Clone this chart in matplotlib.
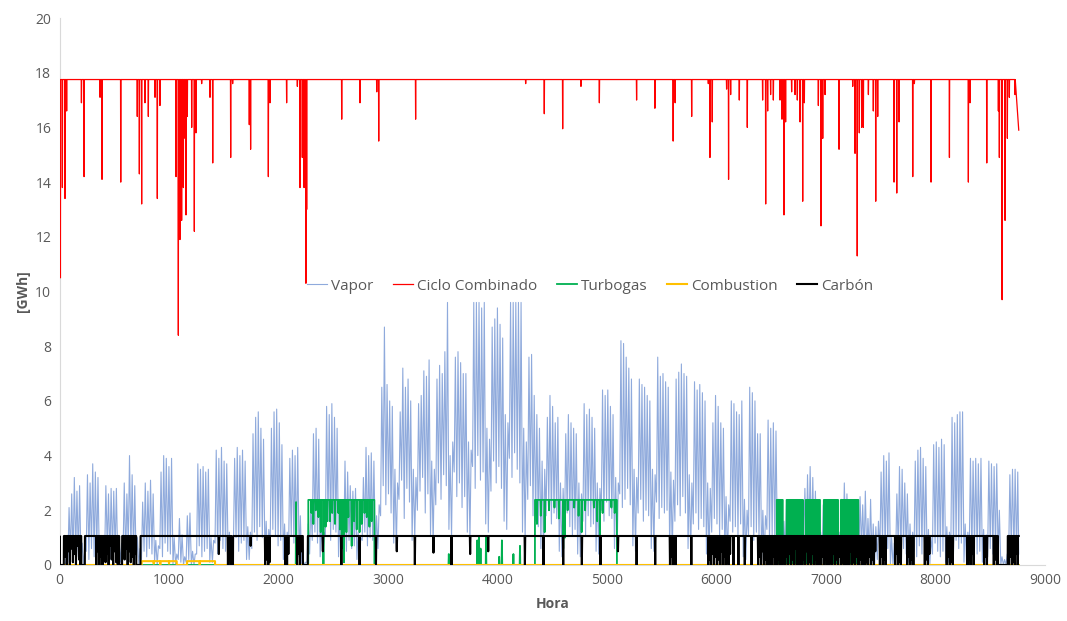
import numpy as np
import matplotlib
matplotlib.use('Agg')
import matplotlib.pyplot as plt

plt.rcParams['font.family'] = ['Open Sans', 'DejaVu Sans']

# ------------------------------------------------------------
# datos (horas del año, GWh)
# ------------------------------------------------------------
# Vapor: pico diario (365 dias, 7 por fila = 1 semana desde la hora 0)
vap_pico = [
    0, 0, 0.3, 2.1, 2.6, 3.2, 2.7,
    2.9, 0.8, 0.6, 3.3, 3.0, 3.7, 3.4,
    3.2, 1.0, 0.7, 2.9, 2.6, 2.8, 2.7,
    2.8, 0.9, 0.8, 3.0, 2.6, 4.0, 3.3,
    2.9, 1.0, 0.6, 2.3, 3.0, 2.7, 3.1,
    2.6, 0.9, 0.7, 3.4, 4.0, 3.9, 3.6,
    3.9, 1.0, 0.4, 1.7, 1.1, 0.3, 1.8,
    1.9, 0.5, 0.4, 3.7, 3.5, 3.6, 3.4,
    3.5, 1.0, 0.9, 4.2, 3.9, 4.3, 3.8,
    3.7, 1.2, 1.0, 3.9, 4.3, 4.0, 4.2,
    3.8, 1.4, 1.2, 4.8, 5.4, 5.6, 5.0,
    4.6, 1.6, 1.3, 5.0, 5.6, 5.7, 5.2,
    4.4, 1.5, 1.2, 3.9, 4.2, 4.0, 4.3,
    1.8, 0.2, 0.1, 1.5, 2.3, 4.8, 5.0,
    4.6, 1.5, 1.2, 5.8, 5.5, 5.9, 5.4,
    5.0, 1.6, 1.3, 3.8, 3.4, 2.9, 2.7,
    2.8, 1.2, 1.0, 3.2, 4.3, 4.0, 4.1,
    3.8, 1.8, 2.2, 6.5, 8.7, 6.6, 6.0,
    5.8, 3.5, 3.0, 5.6, 7.2, 6.5, 6.8,
    6.0, 3.5, 3.2, 5.9, 6.2, 7.1, 6.9,
    7.5, 3.8, 3.5, 6.8, 7.3, 7.0, 7.8,
    9.6, 4.0, 4.5, 7.6, 7.8, 7.4, 7.0,
    7.0, 4.5, 4.2, 9.6, 9.6, 9.6, 9.4,
    9.6, 5.0, 4.6, 8.7, 9.0, 9.4, 8.8,
    8.3, 5.5, 5.2, 9.6, 9.6, 9.6, 9.6,
    9.6, 5.0, 4.5, 7.6, 7.7, 6.2, 5.5,
    5.0, 3.8, 3.5, 5.4, 6.2, 5.8, 5.2,
    5.4, 3.0, 2.8, 4.8, 5.5, 5.2, 5.0,
    4.8, 3.0, 2.6, 5.9, 5.5, 5.7, 5.4,
    5.0, 3.0, 2.8, 6.4, 6.2, 6.4, 5.8,
    5.5, 3.2, 3.0, 8.2, 8.1, 7.6, 7.2,
    6.8, 3.5, 3.2, 6.8, 6.6, 6.5, 6.2,
    6.0, 3.5, 3.3, 7.6, 6.9, 7.0, 6.7,
    6.5, 3.4, 3.1, 6.8, 7.05, 7.35, 7.0,
    6.9, 3.3, 3.0, 6.7, 6.4, 6.6, 6.3,
    6.0, 3.0, 2.8, 5.2, 6.2, 5.8, 5.2,
    5.0, 2.5, 2.2, 6.0, 5.9, 5.6, 5.5,
    6.0, 2.4, 2.0, 6.5, 6.3, 6.0, 4.8,
    4.8, 2.0, 1.8, 5.3, 5.0, 5.2, 4.9,
    2.4, 1.8, 1.6, 2.2, 2.0, 2.3, 2.1,
    2.0, 1.5, 1.5, 2.8, 3.3, 3.6, 3.2,
    2.7, 1.5, 1.2, 2.2, 2.0, 2.3, 2.0,
    2.1, 1.4, 1.2, 2.4, 3.0, 2.6, 2.2,
    2.0, 1.2, 1.0, 2.5, 2.2, 2.7, 1.7,
    2.4, 1.5, 1.4, 1.6, 3.4, 4.0, 3.8,
    4.1, 1.0, 0.8, 2.6, 3.6, 3.5, 3.0,
    2.6, 1.5, 1.2, 3.8, 4.2, 4.3, 3.9,
    3.6, 1.3, 1.0, 4.4, 4.5, 4.3, 4.6,
    4.4, 1.4, 1.2, 5.4, 5.2, 5.5, 5.6,
    5.6, 1.5, 1.2, 3.9, 3.8, 3.9, 3.7,
    3.9, 1.3, 1.1, 3.8, 3.7, 3.6, 3.7,
    2.0, 0.3, 0.2, 0.4, 3.3, 3.5, 3.5,
    3.4,
]
# Vapor: valle nocturno diario (mismo orden)
vap_valle = [
    0, 0, 0, 0.1, 0.4, 0.2, 0.5,
    0.3, 0.1, 0.0, 0.5, 0.2, 0.6, 0.3,
    0.4, 0.1, 0.0, 0.3, 0.6, 0.2, 0.4,
    0.5, 0.0, 0.1, 0.4, 0.2, 0.7, 0.5,
    0.3, 0.0, 0.0, 0.2, 0.5, 0.3, 0.6,
    0.4, 0.1, 0.0, 0.6, 0.3, 0.8, 0.5,
    0.4, 0.0, 0.0, 0.2, 0.1, 0.0, 0.1,
    0.2, 0.0, 0.0, 0.4, 0.7, 0.3, 0.5,
    0.6, 0.1, 0.1, 0.8, 0.4, 0.9, 0.6,
    0.5, 0.2, 0.1, 0.7, 1.0, 0.5, 0.8,
    0.9, 0.2, 0.2, 0.6, 1.2, 0.9, 1.4,
    1.0, 0.3, 0.2, 0.8, 1.3, 1.1, 0.7,
    0.9, 0.2, 0.1, 0.6, 1.1, 0.8, 0.5,
    0.3, 0.0, 0.0, 0.1, 0.4, 0.9, 1.2,
    0.8, 0.3, 0.2, 1.1, 1.6, 0.9, 1.3,
    1.2, 0.3, 0.2, 0.8, 0.5, 0.9, 0.6,
    0.7, 0.2, 0.1, 0.9, 1.2, 0.7, 1.0,
    0.9, 0.5, 0.6, 1.8, 2.9, 2.2, 2.6,
    1.9, 0.8, 0.6, 2.4, 3.1, 1.7, 2.8,
    2.3, 0.9, 1.0, 2.0, 2.7, 3.2, 1.9,
    2.6, 1.1, 0.8, 2.2, 3.0, 2.4, 3.3,
    2.9, 1.3, 1.0, 3.4, 2.5, 3.0, 2.1,
    2.5, 1.2, 0.9, 3.6, 2.8, 4.0, 3.1,
    3.4, 1.5, 1.2, 2.7, 3.8, 3.0, 3.6,
    2.8, 1.6, 1.3, 3.9, 3.2, 4.1, 3.5,
    3.0, 1.2, 0.9, 2.4, 2.9, 1.8, 1.6,
    1.4, 0.6, 0.4, 1.8, 2.2, 1.5, 1.9,
    1.7, 0.5, 0.3, 1.2, 1.9, 1.4, 1.1,
    1.3, 0.4, 0.3, 1.6, 1.1, 1.8, 1.4,
    1.5, 0.5, 0.4, 2.0, 1.6, 2.3, 1.8,
    1.7, 0.6, 0.5, 2.6, 2.1, 2.4, 2.8,
    2.2, 0.7, 0.5, 1.9, 2.4, 1.6, 2.0,
    1.8, 0.6, 0.5, 2.3, 1.7, 2.1, 1.9,
    2.0, 0.5, 0.4, 1.6, 2.2, 1.8, 2.5,
    1.9, 0.6, 0.4, 1.5, 1.9, 1.3, 1.7,
    1.4, 0.4, 0.3, 1.2, 1.7, 1.5, 1.1,
    1.3, 0.3, 0.2, 1.6, 1.2, 1.4, 1.0,
    1.5, 0.3, 0.2, 1.1, 1.4, 0.9, 1.2,
    1.0, 0.2, 0.2, 1.3, 0.8, 1.1, 0.9,
    0.6, 0.2, 0.1, 0.5, 0.8, 0.4, 0.6,
    0.5, 0.1, 0.1, 0.7, 0.4, 0.9, 0.6,
    0.5, 0.1, 0.0, 0.4, 0.6, 0.3, 0.5,
    0.4, 0.1, 0.0, 0.6, 0.3, 0.7, 0.4,
    0.5, 0.0, 0.0, 0.3, 0.6, 0.4, 0.3,
    0.4, 0.1, 0.0, 0.2, 0.5, 0.8, 0.4,
    0.6, 0.0, 0.0, 0.3, 0.5, 0.2, 0.6,
    0.4, 0.1, 0.0, 0.5, 0.3, 0.7, 0.4,
    0.6, 0.1, 0.0, 0.4, 0.8, 0.5, 0.3,
    0.5, 0.1, 0.1, 0.7, 0.4, 0.9, 0.6,
    0.8, 0.1, 0.0, 0.5, 0.3, 0.6, 0.4,
    0.5, 0.1, 0.0, 0.3, 0.6, 0.4, 0.5,
    0.2, 0.0, 0.0, 0.0, 0.4, 0.6, 0.3,
    0.4,
]

# Ciclo combinado: nivel base y caidas (hora, valor minimo)
cc_base = 17.75
cc_inicio = 16.9
cc_fin = 15.9
cc_caida_h = [8, 26, 50, 65, 200, 224, 370, 388, 559, 710, 729, 750, 780, 811, 872, 893,
              917, 1064, 1085, 1100, 1115, 1131, 1146, 1155, 1167, 1207, 1231, 1246, 1298,
              1374, 1399, 1563, 1581, 1733, 1745, 1907, 1922, 2074, 2172, 2196, 2217, 2233,
              2250, 2257, 2577, 2744, 2897, 2915, 3252, 4257, 4427, 4595, 4762, 4930, 5270,
              5437, 5604, 5622, 5773, 5925, 5940, 5961, 6092, 6110, 6129, 6208, 6281, 6421,
              6449, 6467, 6494, 6519, 6580, 6598, 6616, 6631, 6686, 6717, 6738, 6763, 6787,
              6802, 6930, 6954, 6970, 6991, 7119, 7244, 7265, 7285, 7304, 7326, 7341, 7387,
              7432, 7454, 7472, 7621, 7646, 7667, 7792, 7807, 7959, 8127, 8300, 8315, 8468,
              8574, 8583, 8608, 8635, 8656, 8674, 8726]
cc_caida_v = [10.5, 13.8, 13.4, 16.6, 16.9, 14.2, 17.1, 14.1, 14.0, 16.4, 14.3, 13.2, 16.9,
              16.4, 17.1, 13.4, 16.8, 14.2, 8.4, 11.9, 12.6, 13.8, 15.6, 12.8, 16.4, 16.0,
              12.2, 15.8, 17.6, 17.1, 14.7, 14.9, 17.6, 16.1, 15.2, 14.2, 16.9, 16.9, 17.5,
              13.8, 14.9, 13.8, 10.3, 13.0, 16.3, 16.9, 17.3, 15.5, 16.3, 17.6, 16.5, 15.95,
              17.5, 16.9, 17.0, 16.7, 15.5, 16.9, 16.4, 17.6, 14.9, 16.2, 17.4, 14.1, 17.2,
              17.0, 16.0, 17.0, 13.2, 16.6, 17.2, 17.0, 17.0, 16.3, 12.8, 16.2, 17.3, 17.2,
              17.0, 16.2, 13.3, 16.9, 16.8, 12.4, 15.6, 17.2, 15.2, 17.5, 15.05, 11.3, 15.8,
              16.0, 16.0, 17.2, 16.6, 13.3, 16.4, 14.0, 13.6, 16.2, 14.2, 17.6, 14.0, 14.9,
              14.0, 16.9, 14.7, 16.6, 14.9, 9.7, 12.6, 15.6, 17.1, 17.2]

# Turbogas: bloques a plena carga, caidas dentro de ellos y picos sueltos
tg_nivel = 2.38
tg_bloque_ini = [2272, 4342, 6550, 6640, 6815, 6980, 7135]
tg_bloque_fin = [2875, 5090, 6605, 6790, 6945, 7110, 7295]
tg_caida_h = [2300, 2318, 2340, 2364, 2385, 2410, 2430, 2445, 2470, 2490, 2516, 2546, 2560,
              2577, 2598, 2620, 2638, 2668, 2690, 2714, 2740, 2760, 2785, 2806, 2830, 2851,
              4360, 4395, 4430, 4470, 4520, 4560, 4600, 4615, 4640, 4700, 4740, 4768, 4800,
              4880, 4910, 4935, 4960, 5040, 5070,
              6560, 6572, 6584, 6596,
              6650, 6662, 6674, 6686, 6698, 6710, 6722, 6734, 6746, 6758, 6770, 6782,
              6825, 6837, 6849, 6861, 6873, 6885, 6897, 6909, 6921, 6933,
              6990, 7002, 7014, 7026, 7038, 7050, 7062, 7074, 7086, 7098,
              7145, 7157, 7169, 7181, 7193, 7205, 7217, 7229, 7241, 7253, 7265, 7277, 7287]
tg_caida_v = [1.9, 1.5, 2.0, 1.75, 1.2, 0.0, 1.4, 1.6, 1.6, 1.9, 1.5, 1.9, 1.3,
              0.6, 0.1, 1.2, 1.75, 0.7, 1.6, 1.3, 1.2, 1.5, 1.9, 1.75, 1.4, 1.6,
              1.5, 1.8, 1.2, 2.0, 2.1, 1.7, 0.6, 1.0, 2.0, 2.1, 1.8, 1.2, 2.0,
              2.1, 1.6, 1.1, 1.9, 2.1, 1.9,
              0.0, 0.3, 0.0, 0.0,
              0.0, 0.0, 0.4, 0.0, 0.0, 0.2, 0.0, 0.0, 0.6, 0.0, 0.0, 0.3,
              0.0, 0.0, 0.5, 0.0, 0.0, 0.2, 0.0, 0.0, 0.4, 0.0,
              0.0, 0.0, 0.3, 0.0, 0.0, 0.5, 0.0, 0.0, 0.2, 0.0,
              0.0, 0.0, 0.4, 0.0, 0.0, 0.3, 0.0, 0.0, 0.5, 0.0, 0.0, 0.2, 0.0]
tg_pico_h = [2160, 3555, 3815, 3830, 3845, 3895, 4015, 4040, 4145, 4205]
tg_pico_v = [2.3, 0.4, 0.9, 1.0, 0.6, 1.0, 0.3, 0.9, 0.4, 0.7]

# Combustion: tramos con generacion baja y caidas
comb_nivel = 0.14
comb_bloque_ini = [750, 1165]
comb_bloque_fin = [1070, 1420]
comb_caida_h = [860, 920, 1000, 1280]
comb_caida_v = [0.05, 0.0, 0.05, 0.0]

# Carbon: nivel, paradas largas (a cero) y caidas cortas (hora, valor)
carb_nivel = 1.06
carb_parada_ini = [0, 198, 545, 700, 1568, 2222, 8570]
carb_parada_fin = [40, 232, 572, 740, 1585, 2268, 8660]
carb_caida_h = [52, 66, 80, 94, 108, 122, 136, 150, 164, 178, 190,
                336, 350, 364, 378, 392, 406, 420, 434, 448, 462, 476, 490, 504, 518, 532,
                594, 608, 622, 636, 650, 664, 678, 692,
                1455, 1538, 1550, 1562, 1745, 1878, 1892, 1906, 1918, 2062, 2078, 2090,
                2170, 2184, 2196, 2210,
                2405, 2574, 2740, 2890, 3080, 3245, 3415, 3580, 3750, 3915, 4250, 4420,
                4600, 4770, 4940, 5100, 5270, 5440,
                5575, 5588, 5600, 5612, 5625, 5770,
                5925, 5938, 5950, 5963, 5976, 5990, 6003, 6016, 6030, 6043, 6056, 6070,
                6083, 6096, 6110, 6124, 6155, 6200, 6258, 6320,
                6380, 6393, 6406, 6419, 6432, 6445, 6458, 6471, 6484, 6497, 6510, 6523, 6536,
                6550, 6563, 6576, 6589, 6602, 6615, 6628, 6641, 6654, 6667, 6680, 6693, 6706,
                6719, 6732, 6745, 6758, 6771, 6784, 6797, 6810, 6823, 6836, 6849, 6862, 6875,
                6888, 6901, 6914, 6927, 6940,
                6953, 6966, 6979, 6992, 7005, 7018, 7031, 7044, 7057, 7070, 7083, 7096, 7109,
                7122, 7135, 7148, 7161, 7174, 7187, 7200, 7213, 7226, 7239, 7252, 7265, 7278,
                7291, 7304,
                7320, 7333, 7346, 7359, 7372, 7385, 7398, 7411, 7424, 7437, 7450,
                7492, 7505, 7518, 7531, 7544, 7632, 7645, 7658, 7671, 7684,
                7742, 7756, 7770, 7784, 7798, 7902, 7916, 7930, 7944,
                8102, 8116, 8130, 8144, 8158, 8292, 8306, 8320, 8334, 8348,
                8444, 8458, 8470, 8532, 8546, 8560,
                8672, 8685, 8698, 8711, 8724, 8737, 8750]
carb_caida_v = [0.3, 0.0, 0.5, 0.0, 0.6, 0.1, 0.4, 0.0, 0.7, 0.2, 0.0,
                0.0, 0.5, 0.0, 0.3, 0.0, 0.6, 0.1, 0.4, 0.0, 0.7, 0.2, 0.0, 0.5, 0.1, 0.0,
                0.2, 0.6, 0.0, 0.5, 0.1, 0.3, 0.0, 0.4,
                0.4, 0.0, 0.3, 0.0, 0.7, 0.0, 0.2, 0.0, 0.1, 0.0, 0.0, 0.4,
                0.0, 0.4, 0.0, 0.5,
                0.5, 0.0, 0.0, 0.0, 0.5, 0.0, 0.45, 0.0, 0.4, 0.5, 0.0, 0.0,
                0.0, 0.0, 0.0, 0.5, 0.0, 0.0,
                0.0, 0.3, 0.0, 0.2, 0.0, 0.0,
                0.0, 0.2, 0.0, 0.4, 0.0, 0.3, 0.0, 0.2, 0.0, 0.5, 0.0, 0.3,
                0.0, 0.1, 0.0, 0.4, 0.0, 0.0, 0.0, 0.0,
                0.0, 0.3, 0.0, 0.5, 0.0, 0.2, 0.0, 0.4, 0.0, 0.1, 0.0, 0.3, 0.0,
                0.0, 0.2, 0.0, 0.5, 0.0, 0.1, 0.0, 0.3, 0.0, 0.4, 0.0, 0.2, 0.0,
                0.6, 0.0, 0.1, 0.0, 0.3, 0.0, 0.2, 0.0, 0.5, 0.0, 0.1, 0.0, 0.4,
                0.0, 0.2, 0.0, 0.3, 0.0,
                0.0, 0.3, 0.0, 0.2, 0.0, 0.5, 0.0, 0.1, 0.0, 0.4, 0.0, 0.2, 0.0,
                0.3, 0.0, 0.1, 0.0, 0.4, 0.0, 0.2, 0.0, 0.5, 0.0, 0.1, 0.0, 0.3,
                0.0, 0.0,
                0.2, 0.0, 0.4, 0.0, 0.1, 0.0, 0.3, 0.0, 0.2, 0.0, 0.5,
                0.0, 0.3, 0.0, 0.2, 0.0, 0.0, 0.4, 0.0, 0.1, 0.0,
                0.0, 0.3, 0.0, 0.2, 0.0, 0.0, 0.2, 0.0, 0.4,
                0.0, 0.3, 0.0, 0.1, 0.0, 0.0, 0.2, 0.0, 0.4, 0.0,
                0.0, 0.3, 0.0, 0.0, 0.2, 0.0,
                0.0, 0.3, 0.0, 0.1, 0.0, 0.4, 0.0]

HORAS = 8760


# ------------------------------------------------------------
# armado de las series
# ------------------------------------------------------------
def serie_vapor():
    h, v = [], []
    for d, (valle, pico) in enumerate(zip(vap_valle, vap_pico)):
        h += [24 * d + 4, 24 * d + 15]
        v += [min(valle, pico), pico]
    h.append(HORAS)
    v.append(vap_valle[-1])
    return np.array(h), np.array(v)


def serie_escalon(nivel, ini, fin, caidas_h, caidas_v, picos_h=(), picos_v=(), ancho=3):
    # 0 por defecto, 'nivel' dentro de los bloques, caidas en V
    pts = [(0, 0), (HORAS, 0)]
    for a, b in zip(ini, fin):
        pts += [(a - 0.5, 0), (a, nivel), (b, nivel), (b + 0.5, 0)]
    for hh, vv in zip(caidas_h, caidas_v):
        pts += [(hh - ancho, nivel), (hh, vv), (hh + ancho, nivel)]
    for hh, vv in zip(picos_h, picos_v):
        pts += [(hh - ancho, 0), (hh, vv), (hh + ancho, 0)]
    pts.sort()
    return np.array([p[0] for p in pts]), np.array([p[1] for p in pts])


def serie_nivel(nivel, caidas_h, caidas_v, par_ini=(), par_fin=(), arranque=None,
                final=None, ancho=2):
    # nivel constante con caidas en V y paradas planas
    pts = [(0, nivel if arranque is None else arranque),
           (HORAS, nivel if final is None else final)]
    for hh, vv in zip(caidas_h, caidas_v):
        pts += [(hh - ancho, nivel), (hh, vv), (hh + ancho, nivel)]
    for a, b in zip(par_ini, par_fin):
        pts += [(a, nivel), (a + 1, 0), (b - 1, 0), (b, nivel)]
    pts.sort()
    return np.array([p[0] for p in pts]), np.array([p[1] for p in pts])


h_vap, v_vap = serie_vapor()
h_cc, v_cc = serie_nivel(cc_base, cc_caida_h, cc_caida_v, arranque=cc_inicio, final=cc_fin)
h_tg, v_tg = serie_escalon(tg_nivel, tg_bloque_ini, tg_bloque_fin, tg_caida_h, tg_caida_v,
                           tg_pico_h, tg_pico_v)
h_cb, v_cb = serie_escalon(comb_nivel, comb_bloque_ini, comb_bloque_fin,
                           comb_caida_h, comb_caida_v)
h_ca, v_ca = serie_nivel(carb_nivel, carb_caida_h, carb_caida_v,
                         carb_parada_ini, carb_parada_fin, arranque=0, ancho=3)

# ------------------------------------------------------------
# grafico
# ------------------------------------------------------------
gris = '#595959'
fig = plt.figure(figsize=(10.67, 6.21), dpi=100)
ax = fig.add_axes([0.0558, 0.0902, 0.9236, 0.8808])

ax.plot(h_vap, v_vap, color='#8faadc', linewidth=0.8, label='Vapor')
ax.plot(h_cc, v_cc, color='#ff0000', linewidth=0.9, label='Ciclo Combinado')
ax.plot(h_tg, v_tg, color='#00b050', linewidth=1.3, label='Turbogas')
ax.plot(h_cb, v_cb, color='#ffc000', linewidth=1.5, label='Combustion')
ax.plot(h_ca, v_ca, color='#000000', linewidth=1.5, label='Carbón')

ax.set_xlim(0, 9000)
ax.set_ylim(0, 20)
ax.set_xticks(np.arange(0, 9001, 1000))
ax.set_yticks(np.arange(0, 21, 2))
ax.tick_params(length=0, labelsize=10, colors=gris, pad=6)
for s in ['top', 'right']:
    ax.spines[s].set_visible(False)
ax.spines['left'].set_color('#d9d9d9')
ax.spines['bottom'].set_color('#d9d9d9')
ax.spines['left'].set_zorder(1)
ax.spines['bottom'].set_zorder(1)

ax.set_xlabel('Hora', fontsize=10, fontweight='bold', color=gris, labelpad=6)
ax.set_ylabel('[GWh]', fontsize=10, fontweight='bold', color=gris, labelpad=4)

leg = ax.legend(loc='center left', bbox_to_anchor=(0.245, 0.51), ncol=5, frameon=False,
                fontsize=11, handlelength=1.3, handletextpad=0.25, columnspacing=1.3,
                borderaxespad=0)
for t in leg.get_texts():
    t.set_color(gris)

plt.savefig('out.png', dpi=100, facecolor='white')
plt.close()
